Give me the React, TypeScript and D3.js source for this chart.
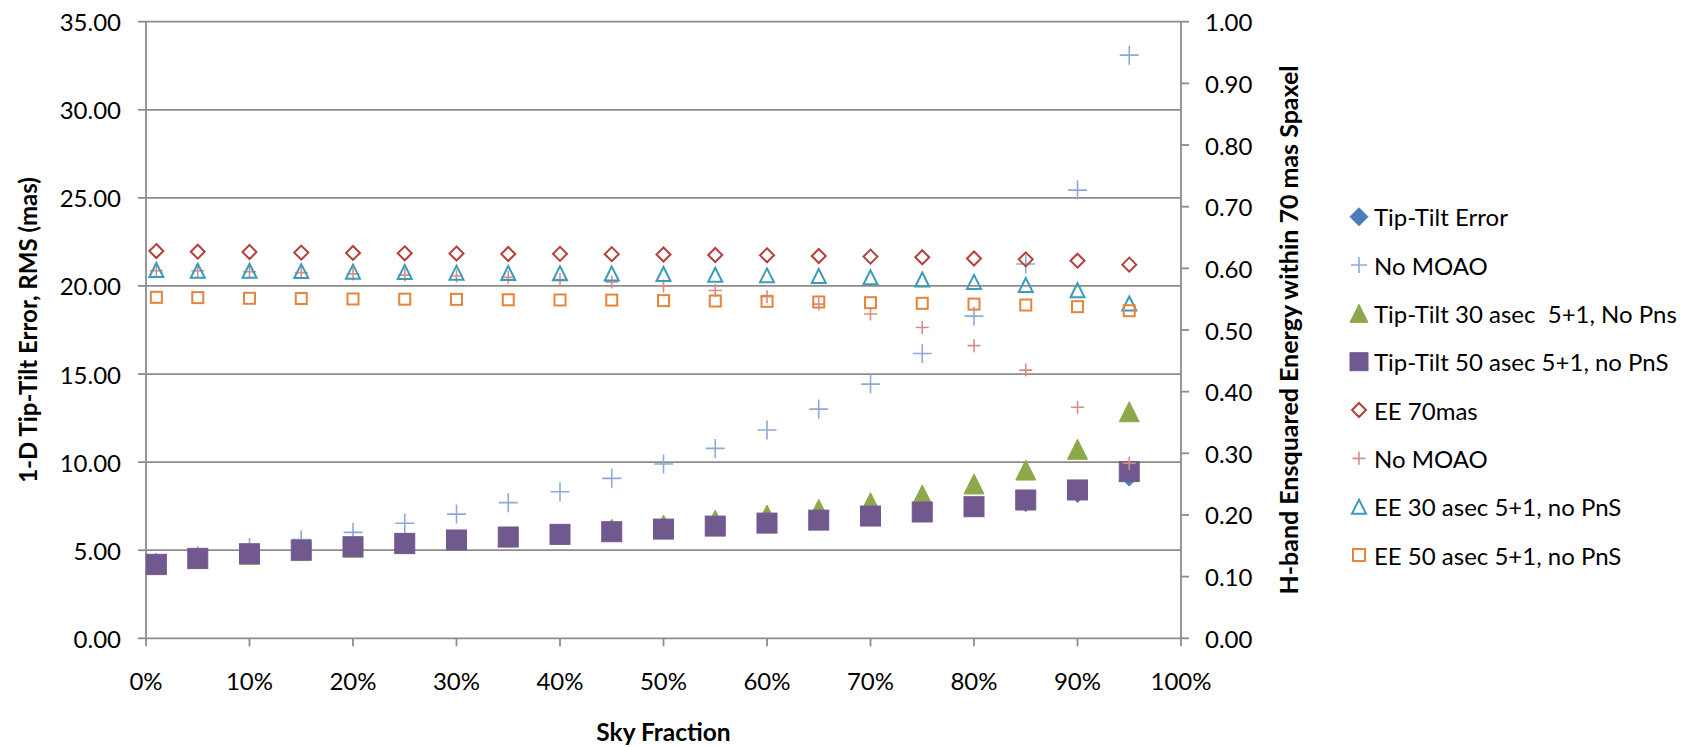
import React from 'react';
import * as d3 from 'd3';

// sky fraction (%)
const skyFraction = [1, 5, 10, 15, 20, 25, 30, 35, 40, 45, 50, 55, 60, 65, 70, 75, 80, 85, 90, 95];

// left axis: 1-D tip-tilt error, RMS (mas)
const tipTiltError = [4.15, 4.48, 4.74, 4.95, 5.13, 5.32, 5.5, 5.67, 5.82, 5.96, 6.1, 6.25, 6.42, 6.58, 6.78, 7.0, 7.28, 7.56, 8.08, 9.01];
const noMoaoTT = [4.3, 4.69, 5.16, 5.6, 6.01, 6.53, 7.05, 7.7, 8.32, 9.08, 9.89, 10.78, 11.82, 13.01, 14.43, 16.17, 18.29, 21.25, 25.44, 33.1];
const tipTilt30 = [4.18, 4.52, 4.77, 4.98, 5.17, 5.37, 5.57, 5.76, 5.93, 6.19, 6.43, 6.71, 7.0, 7.32, 7.7, 8.13, 8.76, 9.55, 10.73, 12.86];
const tipTilt50 = [4.2, 4.54, 4.8, 5.01, 5.2, 5.39, 5.58, 5.75, 5.9, 6.05, 6.2, 6.37, 6.54, 6.71, 6.94, 7.17, 7.47, 7.85, 8.42, 9.46];

// right axis: H-band ensquared energy within 70 mas spaxel
const ee70 = [0.628, 0.627, 0.6265, 0.6255, 0.625, 0.6244, 0.624, 0.6233, 0.6235, 0.623, 0.6225, 0.6216, 0.6211, 0.62, 0.619, 0.618, 0.616, 0.6146, 0.6124, 0.606];
const noMoaoEE = [0.596, 0.596, 0.5945, 0.593, 0.591, 0.589, 0.5876, 0.5854, 0.582, 0.578, 0.5714, 0.564, 0.554, 0.542, 0.526, 0.504, 0.4746, 0.435, 0.3746, 0.2838];
const ee30 = [0.5973, 0.5962, 0.596, 0.5955, 0.5946, 0.594, 0.593, 0.5925, 0.592, 0.5915, 0.5908, 0.5897, 0.5886, 0.5876, 0.5854, 0.582, 0.578, 0.573, 0.5644, 0.543];
const ee50 = [0.553, 0.5525, 0.5514, 0.551, 0.5503, 0.55, 0.5497, 0.549, 0.5487, 0.5485, 0.5476, 0.547, 0.5465, 0.5454, 0.5443, 0.5433, 0.542, 0.5405, 0.5378, 0.5313];

const xTicks = [0, 10, 20, 30, 40, 50, 60, 70, 80, 90, 100];
const leftTicks = [0, 5, 10, 15, 20, 25, 30, 35];
const rightTicks = [0, 0.1, 0.2, 0.3, 0.4, 0.5, 0.6, 0.7, 0.8, 0.9, 1.0];

const series = [
  { name: 'Tip-Tilt Error', values: tipTiltError, axis: 'left', shape: 'diamond', color: '#4A7DBA', size: 13, filled: true, legendSize: 18 },
  { name: 'No MOAO', values: noMoaoTT, axis: 'left', shape: 'plus', color: '#8DA9D6', size: 19, filled: false, legendSize: 16 },
  { name: 'Tip-Tilt 30 asec\u00a0 5+1, No Pns', values: tipTilt30, axis: 'left', shape: 'triangle', color: '#8CA84A', size: 20, filled: true, legendSize: 18 },
  { name: 'Tip-Tilt 50 asec 5+1, no PnS', values: tipTilt50, axis: 'left', shape: 'square', color: '#71598F', size: 20, filled: true, legendSize: 18 },
  { name: 'EE 70mas', values: ee70, axis: 'right', shape: 'diamond', color: '#B3403B', size: 14, filled: false, legendSize: 14 },
  { name: 'No MOAO', values: noMoaoEE, axis: 'right', shape: 'plus', color: '#D88C8A', size: 13, filled: false, legendSize: 13 },
  { name: 'EE 30 asec 5+1, no PnS', values: ee30, axis: 'right', shape: 'triangle', color: '#3C9CB8', size: 14, filled: false, legendSize: 14 },
  { name: 'EE 50 asec 5+1, no PnS', values: ee50, axis: 'right', shape: 'square', color: '#E6843C', size: 11, filled: false, legendSize: 12 },
];

const W = 1690;
const H = 747;
const FONT = 'Lato, "Open Sans", sans-serif';
const GRID = '#8C8C8C';

function Marker({ shape, x, y, s, color, filled }) {
  const h = s / 2;
  const fill = filled ? color : 'none';
  const sw = filled ? 1 : 2;
  if (shape === 'plus') {
    return (
      <path d={`M${x - h},${y}H${x + h}M${x},${y - h}V${y + h}`} stroke={color} strokeWidth={1.6} fill="none" />
    );
  }
  if (shape === 'square') {
    return <rect x={x - h} y={y - h} width={s} height={s} fill={fill} stroke={color} strokeWidth={sw} />;
  }
  if (shape === 'triangle') {
    return <path d={`M${x},${y - h}L${x + h},${y + h}L${x - h},${y + h}Z`} fill={fill} stroke={color} strokeWidth={sw} strokeLinejoin="miter" />;
  }
  return <path d={`M${x},${y - h}L${x + h},${y}L${x},${y + h}L${x - h},${y}Z`} fill={fill} stroke={color} strokeWidth={sw} />;
}

export default function App() {
  const x = d3.scaleLinear().domain([0, 100]).range([146, 1181]);
  const yL = d3.scaleLinear().domain([0, 35]).range([638.3, 21.7]);
  const yR = d3.scaleLinear().domain([0, 1]).range([638.3, 21.7]);
  const fmt = d3.format('.2f');
  const legendY = d3.scaleLinear().domain([0, series.length - 1]).range([216.7, 555]);

  const [x0, x1] = x.range();
  const [yb, yt] = yL.range();

  return (
    <div style={{ position: 'absolute', left: 0, top: 0 }}>
      <svg width={W} height={H} style={{ display: 'block', background: '#fff' }} fontFamily={FONT}>
        {/* gridlines */}
        {leftTicks.filter((t) => t > 0).map((t) => (
          <line key={'g' + t} x1={x0} x2={x1} y1={yL(t)} y2={yL(t)} stroke={GRID} strokeWidth={1.8} />
        ))}
        {/* axes */}
        <line x1={x0} x2={x0} y1={yt} y2={yb} stroke={GRID} strokeWidth={1.8} />
        <line x1={x1} x2={x1} y1={yt} y2={yb} stroke={GRID} strokeWidth={1.8} />
        <line x1={x0} x2={x1} y1={yb} y2={yb} stroke={GRID} strokeWidth={1.8} />

        {leftTicks.map((t) => (
          <g key={'l' + t}>
            <line x1={x0 - 8} x2={x0} y1={yL(t)} y2={yL(t)} stroke={GRID} strokeWidth={1.8} />
            <text x={121} y={yL(t)} textAnchor="end" dominantBaseline="central" fontSize={24} fill="#000">{fmt(t)}</text>
          </g>
        ))}
        {rightTicks.map((t) => (
          <g key={'r' + t}>
            <line x1={x1} x2={x1 + 8} y1={yR(t)} y2={yR(t)} stroke={GRID} strokeWidth={1.8} />
            <text x={1205} y={yR(t)} textAnchor="start" dominantBaseline="central" fontSize={24} fill="#000">{fmt(t)}</text>
          </g>
        ))}
        {xTicks.map((t) => (
          <g key={'x' + t}>
            <line x1={x(t)} x2={x(t)} y1={yb} y2={yb + 8} stroke={GRID} strokeWidth={1.8} />
            <text x={x(t)} y={680} textAnchor="middle" dominantBaseline="central" fontSize={24} fill="#000">{t + '%'}</text>
          </g>
        ))}

        {/* axis titles */}
        <text x={663.5} y={731} textAnchor="middle" dominantBaseline="central" fontSize={24.5} fontWeight="bold">Sky Fraction</text>
        <text transform={`translate(27,${(yt + yb) / 2}) rotate(-90)`} textAnchor="middle" dominantBaseline="central" fontSize={24} fontWeight="bold">1-D Tip-Tilt Error, RMS (mas)</text>
        <text transform={`translate(1288,${(yt + yb) / 2}) rotate(-90)`} textAnchor="middle" dominantBaseline="central" fontSize={25} fontWeight="bold">H-band Ensquared Energy within 70 mas Spaxel</text>

        {/* series */}
        {series.map((s, i) => (
          <g key={'s' + i}>
            {s.values.map((v, j) => (
              <Marker key={j} shape={s.shape} x={x(skyFraction[j])} y={(s.axis === 'left' ? yL : yR)(v)} s={s.size} color={s.color} filled={s.filled} />
            ))}
          </g>
        ))}

        {/* legend */}
        {series.map((s, i) => (
          <g key={'lg' + i}>
            <Marker shape={s.shape} x={1359} y={legendY(i)} s={s.legendSize} color={s.color} filled={s.filled} />
            <text x={1374} y={legendY(i)} dominantBaseline="central" fontSize={24} fill="#000">{s.name}</text>
          </g>
        ))}
      </svg>
    </div>
  );
}
